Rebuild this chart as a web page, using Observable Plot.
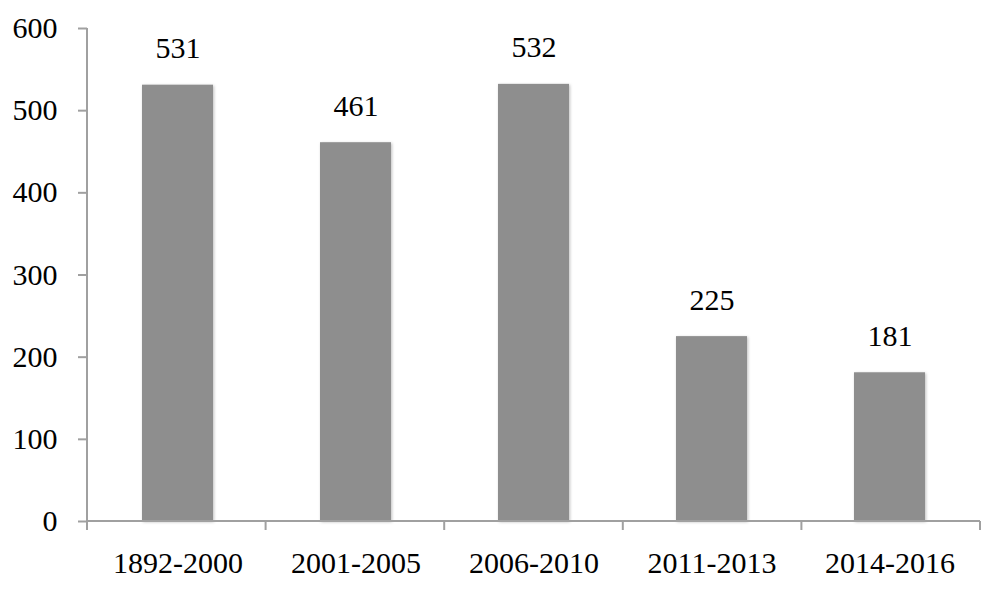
<!DOCTYPE html>
<html>
<head>
<meta charset="utf-8">
<script src="https://cdn.jsdelivr.net/npm/d3@7"></script>
<script src="https://cdn.jsdelivr.net/npm/@observablehq/plot@0.6"></script>
<style>
  html, body { margin: 0; padding: 0; background: #fff; }
  #chart svg { display: block; }
  g[aria-label="bar"] rect { filter: drop-shadow(1px 1px 1.5px rgba(0,0,0,0.25)); }
</style>
</head>
<body>
<div id="chart"></div>
<script>
const categories = ["1892-2000", "2001-2005", "2006-2010", "2011-2013", "2014-2016"];
const values = [531, 461, 532, 225, 181];
const yTicks = [0, 100, 200, 300, 400, 500, 600];

const data = categories.map((c, i) => ({ period: c, value: values[i] }));
const axisColor = "#a0a0a0";
const font = "'Liberation Serif', 'Times New Roman', serif";

// band-edge ticks on the x axis (derived from the chart frame)
function bandEdgeTicks(index, scales, values, dims) {
  const g = d3.create("svg:g");
  const x0 = dims.marginLeft, x1 = dims.width - dims.marginRight;
  const y0 = dims.height - dims.marginBottom;
  const n = categories.length;
  const step = (x1 - x0) / n;
  g.append("line").attr("x1", x0).attr("x2", x1).attr("y1", y0).attr("y2", y0)
    .attr("stroke", axisColor).attr("stroke-width", 2);
  d3.range(n + 1).forEach(i => {
    const x = x0 + i * step;
    g.append("line").attr("x1", x).attr("x2", x).attr("y1", y0).attr("y2", y0 + 9)
      .attr("stroke", axisColor).attr("stroke-width", 2);
  });
  g.append("line").attr("x1", x0).attr("x2", x0).attr("y1", dims.marginTop).attr("y2", y0)
    .attr("stroke", axisColor).attr("stroke-width", 2);
  return g.node();
}

const chart = Plot.plot({
  width: 1000,
  height: 591,
  marginLeft: 87,
  marginRight: 20,
  marginTop: 28,
  marginBottom: 70,
  style: { fontFamily: font, fontSize: "30px", color: "#000", background: "#fff" },
  x: { domain: categories, paddingInner: 0.6, paddingOuter: 0.3, label: null },
  y: { domain: [0, 600], label: null },
  marks: [
    Plot.barY(data, { x: "period", y: "value", fill: "#8e8e8e" }),
    Plot.text(data, { x: "period", y: "value", text: d => String(d.value), lineAnchor: "bottom", dy: -27, fontSize: 30, fill: "#000" }),
    Plot.axisY({ ticks: yTicks, tickSize: 9, tickPadding: 21, stroke: axisColor, strokeWidth: 2, fontSize: 30, fill: "#000", label: null }),
    Plot.axisX({ tickSize: 0, tickPadding: 30, fontSize: 30, fill: "#000", label: null }),
    bandEdgeTicks
  ]
});
document.getElementById("chart").appendChild(chart);
</script>
</body>
</html>
